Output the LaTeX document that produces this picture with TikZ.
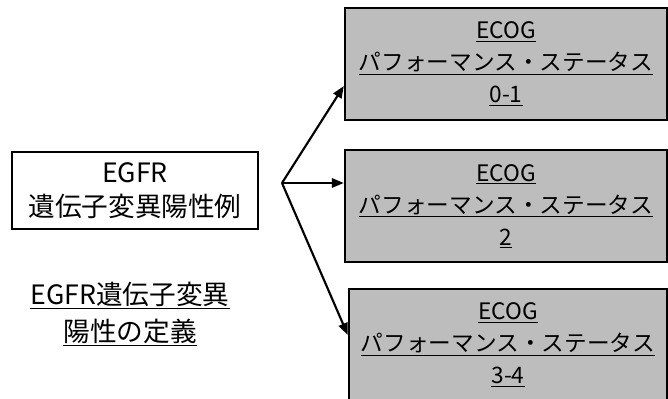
\documentclass[tikz,border=0pt]{standalone}
\usepackage{fontspec}
\setmainfont{Noto Sans CJK JP}
\usetikzlibrary{arrows.meta,calc}
\tikzset{
  mainbox/.style={draw=black,line width=1.8pt,fill=white,minimum width=246*0.75pt,minimum height=77*0.75pt,inner sep=0pt,align=center,font=\fontsize{20}{26}\selectfont},
  ecogbox/.style={draw=black,line width=1.8pt,fill=black!26,minimum height=112*0.75pt,inner sep=0pt,align=center,font=\fontsize{17}{24}\selectfont},
  deftext/.style={align=center,inner sep=0pt,font=\fontsize{20}{20}\selectfont},
  arr/.style={line width=1.6pt,-{Triangle[length=9pt,width=7pt]}}
}
\begin{document}
\begin{tikzpicture}[x=0.75pt,y=-0.75pt]
\useasboundingbox (0,0) rectangle (668,399);
\fill[white] (0,0) rectangle (668,399);
\node[mainbox] (egfr) at (135,190.5) {EGFR\\遺伝子変異陽性例};
\node[deftext] (def) at (130,314) {\underline{EGFR遺伝子変異}\\[6pt]\underline{陽性の定義}};
\node[ecogbox,minimum width=322*0.75pt] (b1) at (506,64) {\underline{ECOG}\\\underline{パフォーマンス・ステータス}\\\underline{0-1}};
\node[ecogbox,minimum width=322*0.75pt] (b2) at (506,206) {\underline{ECOG}\\\underline{パフォーマンス・ステータス}\\\underline{2}};
\node[ecogbox,minimum width=318*0.75pt] (b3) at (508,345) {\underline{ECOG}\\\underline{パフォーマンス・ステータス}\\\underline{3-4}};
\coordinate (br) at (282,183);
\draw[arr] (br) -- ($(b1.west)+(0,22)$);
\draw[arr] (br) -- ($(b2.west)+(0,-23)$);
\draw[arr] (br) -- ($(b3.west)+(0,-10)$);
\end{tikzpicture}
\end{document}
